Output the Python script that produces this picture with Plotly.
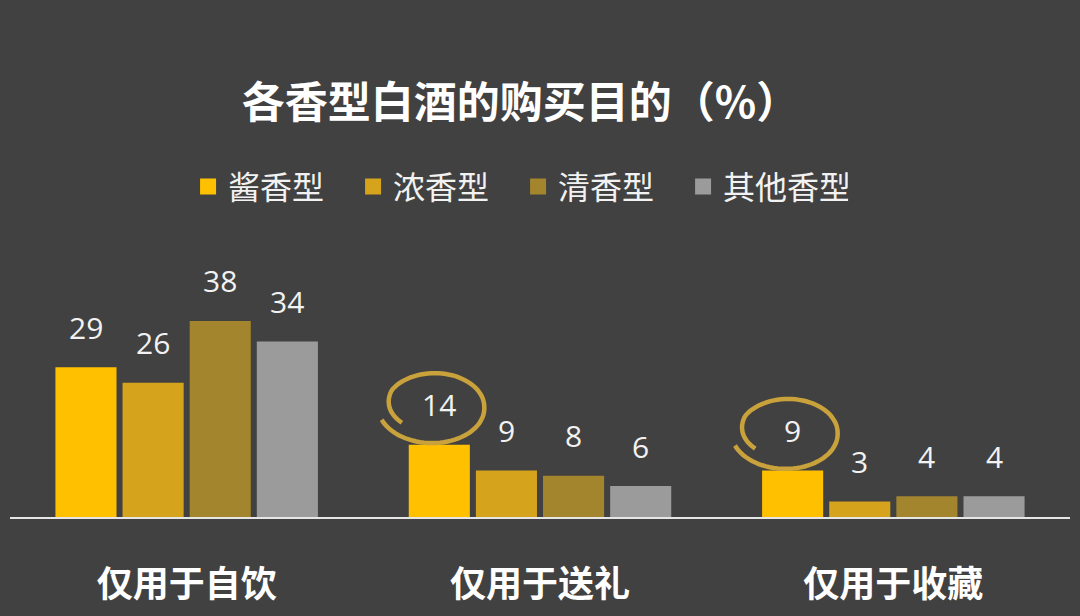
import numpy as np
import plotly.graph_objects as go

# ----- data -----
categories = ["仅用于自饮", "仅用于送礼", "仅用于收藏"]
series_names = ["酱香型", "浓香型", "清香型", "其他香型"]
jiang = [29, 14, 9]
nong = [26, 9, 3]
qing = [38, 8, 4]
other = [34, 6, 4]
# -----------------

series_values = [jiang, nong, qing, other]
colors = ["#FFC000", "#D6A31C", "#A3852E", "#9B9B9B"]
bg = "#414141"
cjk = "Noto Sans CJK SC"

bargap = 0.24
bargroupgap = 0.09
pitch = (1 - bargap) / len(series_names)

fig = go.Figure()
for name, vals, col in zip(series_names, series_values, colors):
    fig.add_trace(go.Bar(
        x=list(range(len(categories))), y=vals, name=name,
        marker=dict(color=col, line=dict(width=0)),
        showlegend=False, hoverinfo="skip"))
    # legend entry with a bigger square swatch
    fig.add_trace(go.Scatter(
        x=[None], y=[None], mode="markers", name=name,
        marker=dict(symbol="square", size=16, color=col)))

# value labels above the bars
for j, vals in enumerate(series_values):
    for i, v in enumerate(vals):
        fig.add_annotation(
            x=i + (j - 1.5) * pitch, y=v, text=str(v), showarrow=False,
            yshift=40, font=dict(family="Open Sans", size=30, color="#F2F2F2"))


def swirl(rx, ry, dx, dy):
    # open hand-drawn loop, pixels relative to the anchor point
    t = np.radians(np.linspace(216, -160, 90))
    r = np.interp(t, np.radians([-160, 0, 150, 216]), [1.12, 1.0, 0.98, 0.8])
    px = dx + rx * r * np.cos(t)
    py = dy + ry * r * np.sin(t)
    return "M" + " L".join(f"{a:.1f},{b:.1f}" for a, b in zip(px, py))


for i in (1, 2):
    fig.add_shape(
        type="path", xref="x", yref="y",
        xsizemode="pixel", ysizemode="pixel",
        xanchor=i - 1.5 * pitch, yanchor=jiang[i],
        path=swirl(50, 34, -5, 38),
        line=dict(color="#C9A23C", width=4.5))

fig.update_layout(
    width=1080, height=616,
    paper_bgcolor=bg, plot_bgcolor=bg,
    margin=dict(l=10, r=10, t=259, b=99),
    barmode="group", bargap=bargap, bargroupgap=bargroupgap,
    title=dict(text="<b>各香型白酒的购买目的（%）</b>", x=0.482, xanchor="center",
               y=0.833, yanchor="middle",
               font=dict(family=cjk, size=43, color="#FFFFFF")),
    legend=dict(orientation="h", x=0.168, xanchor="left", y=1.28, yanchor="middle",
                font=dict(family=cjk, size=32, color="#F2F2F2"),
                bgcolor="rgba(0,0,0,0)", itemclick=False, itemdoubleclick=False,
                entrywidth=120, tracegroupgap=0),
    xaxis=dict(
        tickmode="array", tickvals=list(range(len(categories))), ticktext=categories,
        range=[-0.5, 2.5], showgrid=False, zeroline=False,
        showline=True, linecolor="#E6E6E6", linewidth=2,
        ticks="", ticklabelstandoff=35,
        tickfont=dict(family=cjk, size=36, color="#FFFFFF", weight="bold")),
    yaxis=dict(range=[0, 50], visible=False, fixedrange=True),
    showlegend=True,
)

fig.write_html("out.html", config={"displayModeBar": False},
               post_script="document.body.style.margin='0';")
